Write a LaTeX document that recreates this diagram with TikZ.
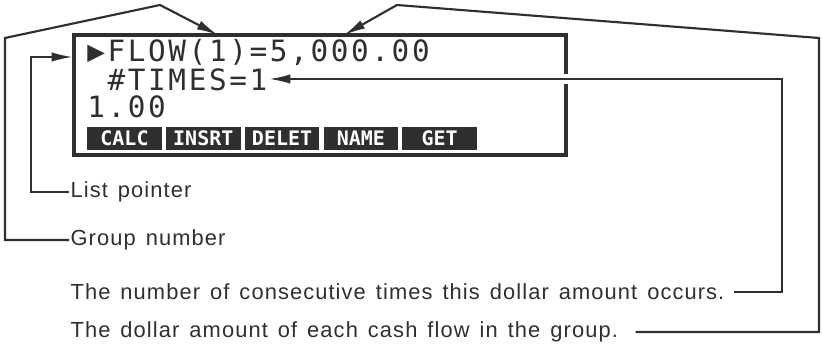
\documentclass[tikz,border=0pt]{standalone}
\usepackage{fontspec}
\setmainfont{Liberation Sans}
\newfontfamily\lblfont[LetterSpace=5,WordSpace=1.4]{Liberation Sans}
\newfontfamily\lcdfont[LetterSpace=9]{DejaVu Sans Mono}
\newfontfamily\keyfont{DejaVu Sans Mono Bold}
\usetikzlibrary{arrows.meta}
\definecolor{ink}{HTML}{2F2F2F}
\tikzset{
  lcd/.style={anchor=west,inner sep=0pt,text=ink,font=\lcdfont\fontsize{22}{22}\selectfont},
  key/.style={fill=ink,text=white,inner sep=0pt,minimum width=56pt,minimum height=17pt,
    font=\keyfont\fontsize{15}{15}\selectfont},
  lbl/.style={anchor=west,inner sep=1pt,text=ink,font=\lblfont\fontsize{16.4}{18}\selectfont},
  conn/.style={draw=ink,line width=1.6pt},
}
\begin{document}
\begin{tikzpicture}[x=0.75pt,y=-0.75pt,line join=miter,>={Latex[length=16pt,width=7pt]}]
  \useasboundingbox (0,0) rectangle (822,352);
  % display
  \draw[ink,line width=2.3pt] (74,35) rectangle (566,155);
  \node[lcd] (flow) at (87,52) {▶FLOW(1)=5,000.00};
  \node[lcd] (times) at (87,80) {\ \#TIMES=1};
  \node[lcd] (val) at (87,107) {1.00};
  \foreach \k [count=\i] in {CALC,INSRT,DELET,NAME,GET}
    \node[key] (key\i) at ({87+78.8*(\i-1)+37.5},138.5) {\k};
  % labels
  \node[lbl] (ptr) at (69,192) {List pointer};
  \node[lbl] (grp) at (69,240) {Group number};
  \node[lbl] (cnt) at (69,292) {The number of consecutive times this dollar amount occurs.};
  \node[lbl] (amt) at (69,332) {The dollar amount of each cash flow in the group.};
  % arrow ends
  \coordinate (ptrtip) at (73,57);
  \coordinate (grptip) at (218,35);
  \coordinate (cnttip) at (269,79);
  \coordinate (amttip) at (344,35);
  % connectors
  \draw[conn,->] (ptr.west) -- (31,192) |- (ptrtip);
  \draw[conn,->] (grp.west) -- (5,240) -- (5,38) -- (160,5) -- (grptip);
  \draw[conn,->,preaction={draw=white,line width=7pt,-}] ([xshift=6pt]cnt.east) -| (782,79) -- (cnttip);
  \draw[conn,->] ([xshift=12pt]amt.east) -| (819,38) -- (397,5) -- (amttip);
\end{tikzpicture}
\end{document}
